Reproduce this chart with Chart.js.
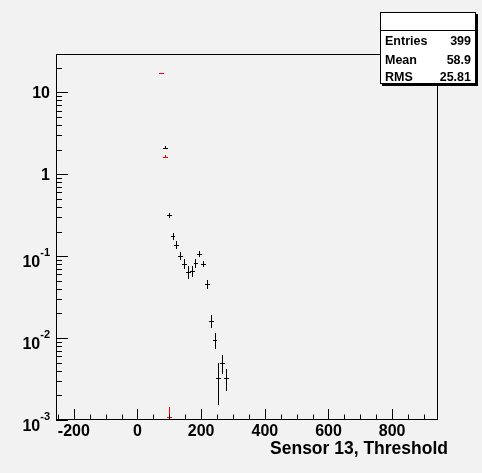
<!DOCTYPE html>
<html>
<head>
<meta charset="utf-8">
<script src="https://cdn.jsdelivr.net/npm/chart.js@4.4.0/dist/chart.umd.min.js"></script>
<style>
    html, body { margin: 0; padding: 0; background: #f2f2f2; }
    #wrap { width: 482px; height: 473px; position: relative; }
</style>
</head>
<body>
<div id="wrap"><canvas id="chart"></canvas></div>
<script>
// Histogram data (bin centres, contents, errors)
const binCenters  = [74, 86, 98, 110, 122, 134, 146, 158, 170, 182, 194, 206, 218, 230, 242, 254, 266, 278];
const blackValues = [17.1, 2.12, 0.315, 0.175, 0.138, 0.101, 0.0806, 0.0643, 0.0655, 0.0828, 0.107, 0.0806, 0.0458, 0.0161, 0.00946, 0.00324, 0.00499, 0.00324];
const blackErrors = [0.35, 0.1, 0.021, 0.016, 0.015, 0.012, 0.011, 0.011, 0.0105, 0.0104, 0.0085, 0.0072, 0.006, 0.003, 0.002, 0.0017, 0.0013, 0.001];

const redCenters = [74, 86, 98];
const redValues  = [17.1, 1.64, 0.0011];
const redErrors  = [0.35, 0.08, 0.00035];

const binHalfWidth = 6;

const xTickValues = [-200, 0, 200, 400, 600, 800];
const xTickLabels = ['-200', '0', '200', '400', '600', '800'];
const yTickValues = [0.001, 0.01, 0.1, 1, 10];
const yTickLabels = [['10', '-3'], ['10', '-2'], ['10', '-1'], ['1', ''], ['10', '']];

const statNames  = ['Entries', 'Mean', 'RMS'];
const statValues = ['399', '58.9', '25.81'];

const xTitle = 'Sensor 13, Threshold';

function toPoints(xs, ys) {
    return xs.map((x, i) => ({ x: x, y: ys[i] }));
}

// Draws ROOT-style frame, ticks, labels, error crosses and stats box
const rootStyle = {
    id: 'rootStyle',
    afterDatasetsDraw(chart) {
        const ctx = chart.ctx;
        const xs = chart.scales.x;
        const ys = chart.scales.y;
        const area = chart.chartArea;
        const font = 'bold 16px "Liberation Sans", Arial, sans-serif';

        ctx.save();
        ctx.strokeStyle = '#000';
        ctx.lineWidth = 1;

        // error crosses
        ctx.save();
        ctx.beginPath();
        ctx.rect(area.left, area.top, area.right - area.left, area.bottom - area.top);
        ctx.clip();
        const drawSeries = (xv, yv, ev, color) => {
            ctx.strokeStyle = color;
            ctx.beginPath();
            xv.forEach((x, i) => {
                const px = Math.round(xs.getPixelForValue(x)) + 0.5;
                const py = Math.round(ys.getPixelForValue(yv[i])) + 0.5;
                const x0 = Math.round(xs.getPixelForValue(x - binHalfWidth));
                const x1 = Math.round(xs.getPixelForValue(x + binHalfWidth)) + 1;
                ctx.moveTo(x0, py);
                ctx.lineTo(x1, py);
                const lo = yv[i] - ev[i] > 0 ? ys.getPixelForValue(yv[i] - ev[i]) : area.bottom + 5;
                const hi = ys.getPixelForValue(yv[i] + ev[i]);
                ctx.moveTo(px, Math.round(hi));
                ctx.lineTo(px, Math.round(lo));
            });
            ctx.stroke();
        };
        drawSeries(binCenters, blackValues, blackErrors, '#000');
        drawSeries(redCenters, redValues, redErrors, '#ff0000');
        ctx.restore();

        // frame
        ctx.strokeStyle = '#000';
        ctx.strokeRect(area.left + 0.5, area.top + 0.5, area.right - area.left - 1, area.bottom - area.top - 1);

        // x ticks
        ctx.beginPath();
        for (let v = -250; v <= 944; v += 50) {
            const px = Math.round(xs.getPixelForValue(v)) + 0.5;
            const len = (v % 200 === 0) ? 11 : 5.5;
            ctx.moveTo(px, area.bottom);
            ctx.lineTo(px, area.bottom - len);
        }
        // y ticks
        for (let d = -3; d <= 1; d++) {
            for (let m = 1; m <= 9; m++) {
                const v = m * Math.pow(10, d);
                if (v > ys.max) break;
                const py = Math.round(ys.getPixelForValue(v)) + 0.5;
                const len = (m === 1) ? 12 : 6;
                ctx.moveTo(area.left, py);
                ctx.lineTo(area.left + len, py);
            }
        }
        ctx.stroke();

        // x labels
        ctx.fillStyle = '#000';
        ctx.font = font;
        ctx.textAlign = 'center';
        ctx.textBaseline = 'alphabetic';
        xTickValues.forEach((v, i) => {
            ctx.fillText(xTickLabels[i], xs.getPixelForValue(v), 436);
        });

        // y labels
        yTickValues.forEach((v, i) => {
            const py = ys.getPixelForValue(v);
            const base = yTickLabels[i][0];
            const sup = yTickLabels[i][1];
            ctx.textAlign = 'right';
            if (sup) {
                ctx.font = 'bold 11px "Liberation Sans", Arial, sans-serif';
                ctx.fillText(sup, 50, py);
                const w = ctx.measureText(sup).width;
                ctx.font = font;
                ctx.fillText(base, 50 - w, py + 10.5);
            } else {
                ctx.font = font;
                ctx.fillText(base, 50, py + 6);
            }
        });

        // axis title
        ctx.font = 'bold 17.5px "Liberation Sans", Arial, sans-serif';
        ctx.textAlign = 'right';
        ctx.fillText(xTitle, 448, 454);

        // stats box
        const bx = 380, by = 12, bw = 96, bh = 72;
        ctx.fillStyle = '#000';
        ctx.fillRect(bx + 2, by + 2, bw, bh);
        ctx.fillStyle = '#fff';
        ctx.fillRect(bx, by, bw, bh);
        ctx.strokeRect(bx + 0.5, by + 0.5, bw - 1, bh - 1);
        ctx.beginPath();
        ctx.moveTo(bx, 30.5);
        ctx.lineTo(bx + bw, 30.5);
        ctx.stroke();
        ctx.fillStyle = '#000';
        ctx.font = 'bold 12.5px "Liberation Sans", Arial, sans-serif';
        const rowY = [45, 63.5, 81];
        statNames.forEach((name, i) => {
            ctx.textAlign = 'left';
            ctx.fillText(name, 385, rowY[i]);
            ctx.textAlign = 'right';
            ctx.fillText(statValues[i], 471, rowY[i]);
        });

        ctx.restore();
    }
};

const ctx = document.getElementById('chart').getContext('2d');
new Chart(ctx, {
    type: 'scatter',
    data: {
        datasets: [
            { label: 'black', data: toPoints(binCenters, blackValues), pointRadius: 0, showLine: false },
            { label: 'red', data: toPoints(redCenters, redValues), pointRadius: 0, showLine: false }
        ]
    },
    options: {
        responsive: true,
        maintainAspectRatio: false,
        animation: false,
        layout: { padding: { left: 56, right: 44, top: 54, bottom: 53 } },
        scales: {
            x: { type: 'linear', min: -256, max: 944, display: false },
            y: { type: 'logarithmic', min: 0.001, max: 29.4, display: false }
        },
        plugins: {
            legend: { display: false },
            tooltip: { enabled: false }
        }
    },
    plugins: [rootStyle]
});
</script>
</body>
</html>
